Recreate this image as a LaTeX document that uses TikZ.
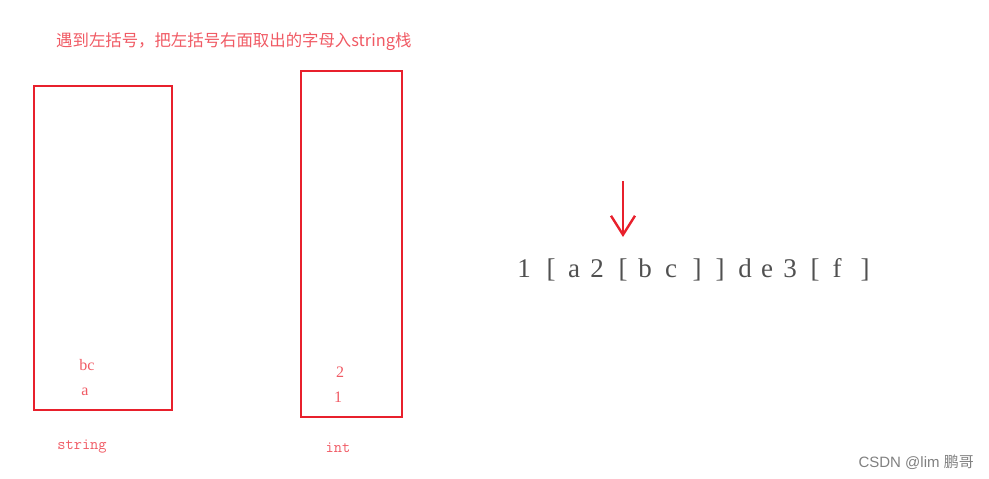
\documentclass[tikz,border=0pt]{standalone}
\usepackage{fontspec}
\setmainfont{Liberation Serif}
\newfontfamily\cjk{Noto Sans CJK SC}
\newfontfamily\wm{Liberation Sans}
\usetikzlibrary{arrows.meta}
\definecolor{boxred}{RGB}{232,32,44}
\definecolor{txtred}{RGB}{240,90,100}
\definecolor{txtgray}{RGB}{80,80,80}
\tikzset{
  stackbox/.style={draw=boxred, line width=2.6pt},
  redtxt/.style={text=txtred, inner sep=0, font=\fontsize{16}{18}\selectfont},
  monotxt/.style={text=txtred, inner sep=0, font=\ttfamily\fontsize{16}{18}\selectfont},
  exprchar/.style={text=txtgray, inner sep=0, font=\fontsize{27}{29}\selectfont},
}
\begin{document}
\begin{tikzpicture}[x=1pt,y=-1pt]
\useasboundingbox (0,0) rectangle (989,479);
\node[text=txtred, anchor=west, inner sep=0, font=\cjk\fontsize{16.4}{18}\selectfont] (title) at (56,42) {遇到左括号，把左括号右面取出的字母入string栈};
\draw[stackbox] (34,86) rectangle (172,410);
\draw[stackbox] (301,71) rectangle (402,417);
\node[redtxt] (bc) at (87,365) {bc};
\node[redtxt] (a) at (85,392) {a};
\node[redtxt] (two) at (340,372) {2};
\node[redtxt] (one) at (338,397) {1};
\node[monotxt] (s) at (82,447) {string};
\node[monotxt] (i) at (338,448) {int};
\foreach \ch/\x [count=\k] in {1/524,[/551,a/574,2/597,[/623,b/645,c/671,]/697,]/720,d/745,e/767,3/790,[/815,f/837,]/865}
  \node[exprchar, anchor=base] (e\k) at (\x,277) {\ch};
\coordinate (atop) at (623,181);
\coordinate (abot) at (623,237);
\draw[boxred, line width=2.4pt, -{Straight Barb[length=19pt,width=24pt]}] (atop) -- (abot);
\node[text=gray, inner sep=0, anchor=east, font=\wm\fontsize{15}{17}\selectfont] (wmk) at (974,462) {CSDN @lim {\cjk 鹏哥}};
\end{tikzpicture}
\end{document}
